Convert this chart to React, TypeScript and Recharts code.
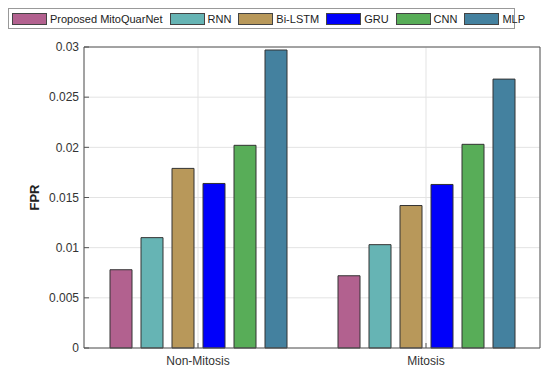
import {
  BarChart,
  Bar,
  XAxis,
  YAxis,
  CartesianGrid,
} from "recharts";

const categories = ["Non-Mitosis", "Mitosis"];
const proposed = [0.0078, 0.0072];
const rnn = [0.011, 0.0103];
const biLstm = [0.0179, 0.0142];
const gru = [0.0164, 0.0163];
const cnn = [0.0202, 0.0203];
const mlp = [0.0297, 0.0268];
const yTicks = [0, 0.005, 0.01, 0.015, 0.02, 0.025, 0.03];

const series = [
  { key: "proposed", name: "Proposed MitoQuarNet", color: "#b2618f" },
  { key: "rnn", name: "RNN", color: "#66b4b4" },
  { key: "biLstm", name: "Bi-LSTM", color: "#b8985a" },
  { key: "gru", name: "GRU", color: "#0000fa" },
  { key: "cnn", name: "CNN", color: "#58ad58" },
  { key: "mlp", name: "MLP", color: "#44819f" },
];

const data = categories.map((c, i) => ({
  label: c,
  proposed: proposed[i],
  rnn: rnn[i],
  biLstm: biLstm[i],
  gru: gru[i],
  cnn: cnn[i],
  mlp: mlp[i],
}));

const font = "Arial, 'Liberation Sans', sans-serif";

export default function App() {
  return (
    <div style={{ position: "absolute", left: 0, top: 0, width: 550, height: 373, background: "#fff", fontFamily: font }}>
      <BarChart
        width={550}
        height={373}
        data={data}
        margin={{ top: 47, right: 10, bottom: 5, left: 0 }}
        barSize={22}
        barGap={9}
      >
        <CartesianGrid stroke="#e3e3e3" />
        {/* plot box: top and right edges */}
        <CartesianGrid
          stroke="#555"
          verticalCoordinatesGenerator={({ offset }: any) => [offset.left + offset.width]}
          horizontalCoordinatesGenerator={({ offset }: any) => [offset.top]}
        />
        <XAxis
          dataKey="label"
          height={20}
          stroke="#555"
          tickSize={-5}
          tickMargin={13}
          tick={{ fill: "#333", fontSize: 12, fontFamily: font }}
        />
        <YAxis
          width={84}
          domain={[0, 0.03]}
          ticks={yTicks}
          stroke="#555"
          tickSize={-5}
          tickMargin={10}
          tick={{ fill: "#333", fontSize: 12, fontFamily: font }}
          label={{
            value: "FPR",
            angle: -90,
            position: "insideLeft",
            offset: 34,
            style: { fontWeight: "bold", fontSize: 13, fill: "#222", fontFamily: font, textAnchor: "middle" },
          }}
        />
        {series.map((s) => (
          <Bar
            key={s.key}
            dataKey={s.key}
            name={s.name}
            fill={s.color}
            stroke="#333"
            strokeWidth={1}
            isAnimationActive={false}
          />
        ))}
      </BarChart>
      <div
        style={{
          position: "absolute",
          left: 8,
          top: 8,
          width: 502,
          height: 19,
          border: "1px solid #999",
          display: "flex",
          alignItems: "center",
          fontSize: 11,
          color: "#222",
          paddingLeft: 3,
          boxSizing: "content-box",
          whiteSpace: "nowrap",
        }}
      >
        {series.map((s) => (
          <div key={s.key} style={{ display: "flex", alignItems: "center", marginRight: 7, flexShrink: 0 }}>
            <span
              style={{
                display: "inline-block",
                width: 33,
                height: 10,
                background: s.color,
                border: "1px solid #444",
                marginRight: 3,
                flexShrink: 0,
              }}
            />
            <span>{s.name}</span>
          </div>
        ))}
      </div>
    </div>
  );
}
